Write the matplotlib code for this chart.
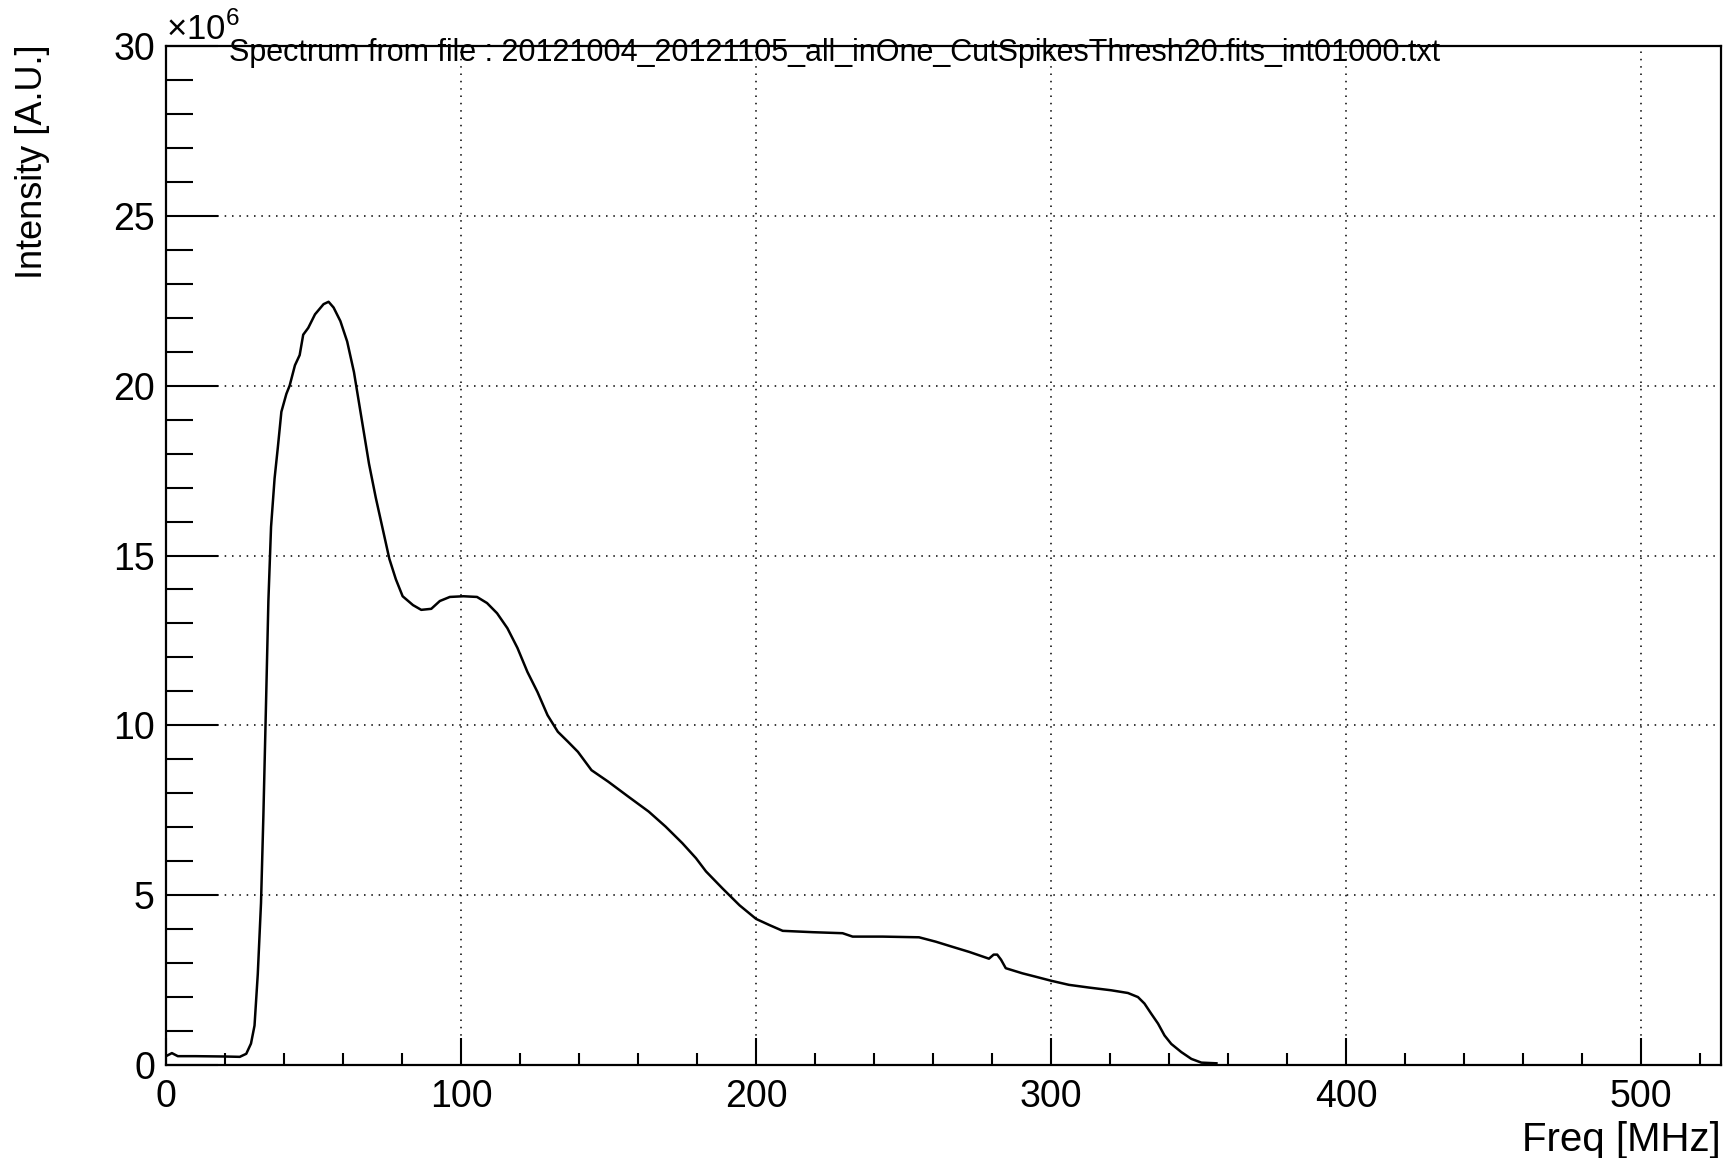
import matplotlib
matplotlib.use("Agg")
import matplotlib.pyplot as plt
from matplotlib.ticker import MultipleLocator

plt.rcParams['font.family'] = ['Liberation Sans', 'DejaVu Sans']
plt.rcParams['mathtext.fontset'] = 'custom'
plt.rcParams['mathtext.rm'] = 'Liberation Sans'

title = ("Spectrum from file : 20121004_20121105_all_inOne_"
         "CutSpikesThresh20.fits_int01000.txt")

# Spectrum (intensity in units of 1e6)
freq = [0, 2, 4, 10, 20, 25, 27.2, 28.8, 30, 31.1, 32.2, 33, 33.9, 34.7,
        35.6, 36.8, 37.9, 39.1, 40.8, 41.9, 43.7, 45.3, 46.5, 48.2, 50.5,
        53.4, 55.1, 56.8, 59.1, 61.4, 63.7, 65.4, 67.1, 68.8, 71.1, 73.4,
        75.7, 77.9, 80.2, 83.7, 86.5, 89.9, 92.8, 96.2, 100.8, 105.4, 108.8,
        112.2, 115.7, 119.1, 122.5, 125.9, 129.3, 132.8, 136.2, 139.6, 144.2,
        149.9, 156.7, 163.6, 169.3, 175, 179.6, 183, 188.7, 194.4, 200,
        204.5, 209, 219.2, 229.3, 232.7, 242.8, 255.2, 260.9, 266.5, 272.2,
        278.9, 280.5, 281.7, 283, 284.6, 290.2, 294.7, 300, 306, 312.8,
        320.3, 326, 329.4, 331.6, 333.9, 336.2, 338.4, 340.7, 344.1, 347.5,
        350.9, 356]
intensity = [0.26, 0.35, 0.26, 0.26, 0.25, 0.24, 0.33, 0.63, 1.16, 2.67,
             4.77, 7.33, 10.65, 13.66, 15.84, 17.27, 18.18, 19.23, 19.76,
             20.0, 20.6, 20.9, 21.5, 21.7, 22.1, 22.4, 22.47, 22.3, 21.9,
             21.3, 20.4, 19.5, 18.6, 17.7, 16.7, 15.8, 14.9, 14.3, 13.8,
             13.54, 13.4, 13.43, 13.66, 13.78, 13.8, 13.78, 13.6, 13.3,
             12.86, 12.28, 11.57, 10.98, 10.3, 9.81, 9.52, 9.22, 8.68, 8.34,
             7.9, 7.46, 7.02, 6.53, 6.09, 5.7, 5.19, 4.7, 4.3, 4.12, 3.95,
             3.91, 3.88, 3.78, 3.78, 3.76, 3.63, 3.48, 3.33, 3.13, 3.25,
             3.25, 3.1, 2.85, 2.7, 2.6, 2.48, 2.36, 2.28, 2.2, 2.12, 2.0,
             1.81, 1.51, 1.22, 0.87, 0.62, 0.38, 0.18, 0.07, 0.05]

W, H = 1735, 1158
fig = plt.figure(figsize=(W / 100, H / 100), dpi=100)
ax = fig.add_axes([166 / W, 1 - 1065 / H, (1721 - 166) / W, (1065 - 46) / H])

ax.plot(freq, intensity, color='black', lw=1.8)

ax.set_xlim(0, 527)
ax.set_ylim(0, 30)
ax.xaxis.set_major_locator(MultipleLocator(100))
ax.xaxis.set_minor_locator(MultipleLocator(20))
ax.yaxis.set_major_locator(MultipleLocator(5))
ax.yaxis.set_minor_locator(MultipleLocator(1))

ax.tick_params(axis='both', which='both', direction='in', top=False,
               right=False, width=1.5, labelsize=27, colors='black')
ax.tick_params(axis='x', which='major', length=19.5, pad=10)
ax.tick_params(axis='x', which='minor', length=9)
ax.tick_params(axis='y', which='major', length=37.5, pad=8)
ax.tick_params(axis='y', which='minor', length=19.5)

for s in ax.spines.values():
    s.set_linewidth(1.6)

ax.grid(True, which='major', color='black', lw=1.1, linestyle=(0, (1, 3.8)))

# exponent for the y axis
fig.text(166 / W, 1 - 40 / H, "\u00d710$^{6}$", fontsize=25, ha='left',
         va='baseline')

fig.text(229 / W, 1 - 53 / H, title, fontsize=22, ha='left', va='center')
fig.text(1721 / W, 1 - 1140 / H, "Freq [MHz]", fontsize=29, ha='right',
         va='center')
fig.text(33 / W, 1 - 44 / H, "Intensity [A.U.]", fontsize=26, rotation=90,
         ha='center', va='top')

fig.savefig("out.png", dpi=100)
